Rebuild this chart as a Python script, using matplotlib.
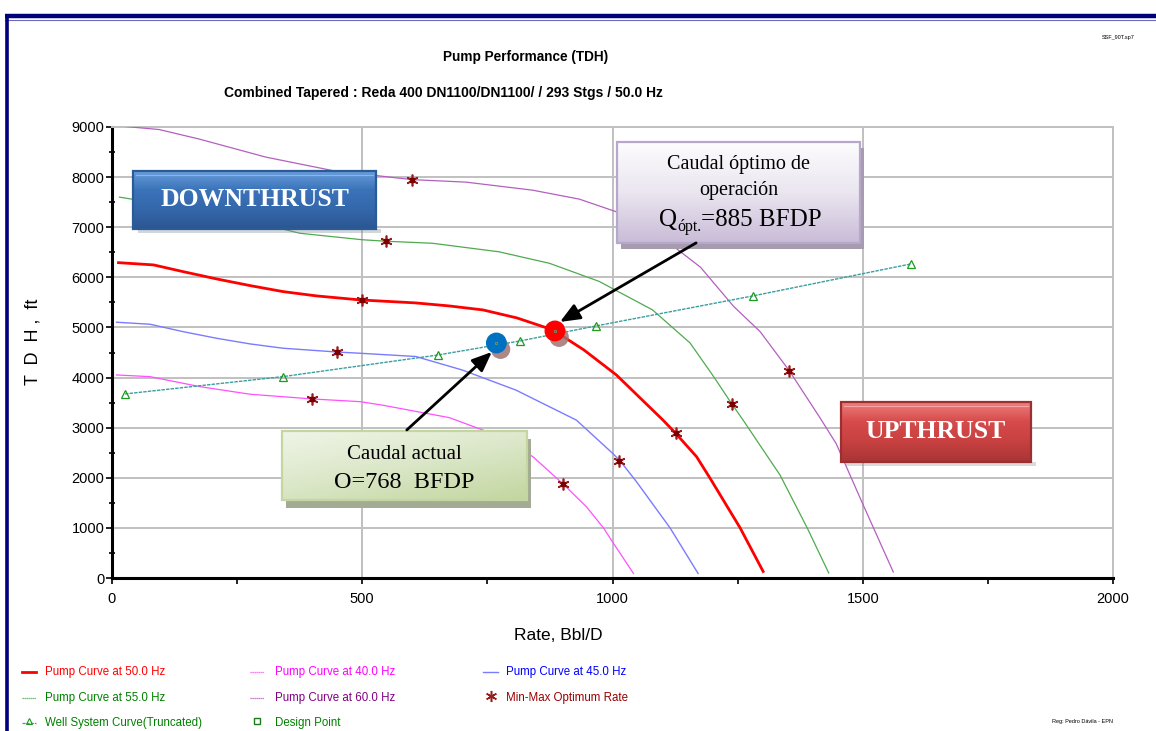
import numpy as np
import matplotlib
matplotlib.use("Agg")
import matplotlib.pyplot as plt
import matplotlib.patheffects as pe
from matplotlib.patches import Rectangle
from matplotlib.colors import LinearSegmentedColormap
from matplotlib.transforms import offset_copy


# Pump curves (rate Bbl/D, TDH ft)
q_60 = [15, 94, 174, 307, 441, 599, 707, 840, 934, 1007, 1110, 1176, 1242, 1295, 1353, 1415, 1447, 1499, 1561]
tdh_60 = [9020, 8950, 8760, 8400, 8130, 7950, 7900, 7740, 7560, 7310, 6710, 6200, 5420, 4916, 4140, 3190, 2680, 1500, 120]

q_55 = [15, 108, 242, 375, 500, 548, 640, 773, 874, 973, 1080, 1155, 1202, 1238, 1261, 1335, 1389, 1432]
tdh_55 = [7600, 7450, 7210, 6880, 6750, 6720, 6680, 6510, 6280, 5920, 5350, 4690, 4020, 3480, 3150, 2050, 1000, 100]

q_50 = [13, 83, 142, 209, 276, 342, 409, 496, 606, 673, 741, 809, 881, 943, 1008, 1101, 1126, 1168, 1195, 1255, 1301]
tdh_50 = [6293, 6248, 6114, 5968, 5835, 5715, 5629, 5549, 5490, 5430, 5350, 5190, 4950, 4550, 4050, 3150, 2890, 2420, 1990, 1000, 130]

q_45 = [9, 76, 142, 209, 276, 342, 449, 496, 607, 700, 807, 928, 1000, 1015, 1048, 1115, 1171]
tdh_45 = [5104, 5064, 4916, 4784, 4671, 4585, 4510, 4485, 4420, 4150, 3750, 3150, 2490, 2340, 1920, 1000, 90]

q_40 = [9, 76, 176, 276, 400, 496, 540, 674, 774, 841, 902, 948, 982, 1002, 1042]
tdh_40 = [4052, 4018, 3818, 3667, 3573, 3519, 3450, 3200, 2830, 2420, 1870, 1420, 1000, 690, 90]

# Min-Max optimum rate points
minmax_q = [599, 1353, 548, 1238, 499, 1126, 449, 1013, 400, 902]
minmax_tdh = [7950, 4140, 6720, 3480, 5550, 2890, 4510, 2340, 3573, 1870]

# Well system curve (truncated)
well_q = [26, 341, 651, 815, 967, 1281, 1596]
well_tdh = [3673, 4018, 4450, 4730, 5030, 5630, 6267]

# Operating points: optimum and actual
design_q = [885, 768]
design_tdh = [4930, 4690]
design_colors = ["#ff0000", "#0070c0"]

x_ticks = [0, 500, 1000, 1500, 2000]
y_ticks = [0, 1000, 2000, 3000, 4000, 5000, 6000, 7000, 8000, 9000]

W, H = 1156, 731
SANS = ["Liberation Sans", "DejaVu Sans"]
SERIF = ["Liberation Serif", "DejaVu Serif"]

plt.rcParams["font.family"] = SANS


def fx(px):
    return px / W


def fy(py):
    return 1 - py / H


def grad_box(ax, x0, x1, y0, y1, colors, edge, z, direction="v"):
    # colors go from the top edge (first) to the bottom edge (last)
    cmap = LinearSegmentedColormap.from_list("box", colors)
    if direction == "v":
        grad = np.linspace(0, 1, 80).reshape(-1, 1)
    else:
        gx, gy = np.meshgrid(np.linspace(0, 1, 80), np.linspace(0, 1, 80))
        grad = gx * 0.4 + gy * 0.6
    ax.imshow(grad, extent=(x0, x1, y0, y1), origin="upper", cmap=cmap,
              aspect="auto", zorder=z, interpolation="bicubic")
    ax.add_patch(Rectangle((x0, y0), x1 - x0, y1 - y0, fill=False,
                           ec=edge, lw=1.6, zorder=z + 0.1))


fig = plt.figure(figsize=(W / 100, H / 100), dpi=100)
renderer = fig.canvas.get_renderer()

# page overlay in pixel units: frame, legend, notes
ov = fig.add_axes([0, 0, 1, 1])
ov.set_xlim(0, W)
ov.set_ylim(H, 0)
ov.axis("off")
ov.plot([5, W], [16, 16], color="#00007a", lw=3.2, solid_capstyle="butt")
ov.plot([5, W], [19.5, 19.5], color="#6a6ab8", lw=0.8)
ov.plot([7, 7], [16, H], color="#00007a", lw=2.6, solid_capstyle="butt")

ax = fig.add_axes([fx(112), fy(578), (1113 - 112) / W, (578 - 127) / H])

ax.plot(q_60, tdh_60, color="#b45fc0", lw=0.9, zorder=3)
ax.plot(q_55, tdh_55, color="#4faa4f", lw=0.9, zorder=3)
ax.plot(q_50, tdh_50, color="#ff0000", lw=2.0, zorder=4)
ax.plot(q_45, tdh_45, color="#7b7bff", lw=1.0, zorder=3)
ax.plot(q_40, tdh_40, color="#ff50ff", lw=0.9, zorder=3)

ax.plot(well_q, well_tdh, color="#3a9f9f", lw=1.0, ls=(0, (2.5, 0.8)), zorder=3)
ax.plot(well_q, well_tdh, ls="none", marker="^", ms=6, mfc="none",
        mec="#1f9a1f", mew=0.9, zorder=5)

ax.plot(minmax_q, minmax_tdh, ls="none", marker=(6, 2, 0), ms=8.5,
        mew=1.2, color="#9b1c1c", zorder=6)
ax.plot(minmax_q, minmax_tdh, ls="none", marker="s", ms=3,
        color="#7a0000", zorder=6)

for q, t, c in zip(design_q, design_tdh, design_colors):
    ax.plot([q], [t], ls="none", marker="o", ms=14, color=c, zorder=8,
            path_effects=[pe.SimplePatchShadow(offset=(3, -4.5),
                                                shadow_rgbFace="#a07272",
                                                alpha=0.85),
                          pe.Normal()])
    ax.plot([q], [t], ls="none", marker="s", ms=1.5, mfc="none",
            mec="#6a9a6a", mew=0.6, zorder=9)

# axes styling
ax.set_xlim(0, 2000)
ax.set_ylim(0, 9000)
ax.set_xticks(x_ticks)
ax.set_yticks(y_ticks)
ax.set_xticks([250, 750, 1250, 1750], minor=True)
ax.set_yticks(np.arange(500, 9000, 1000), minor=True)
ax.grid(True, which="major", color="#c0c0c0", lw=1.4, zorder=0)
ax.set_axisbelow(True)
for s in ["top", "right"]:
    ax.spines[s].set_color("#c0c0c0")
    ax.spines[s].set_linewidth(1.4)
for s in ["left", "bottom"]:
    ax.spines[s].set_color("black")
    ax.spines[s].set_linewidth(2.2)
ax.tick_params(axis="x", which="both", direction="out", length=4, width=1.2,
               labelsize=10.5, pad=6)
ax.tick_params(axis="y", which="major", direction="out", length=4, width=1.2,
               labelsize=10.5, pad=1.5)
ax.tick_params(axis="y", which="minor", direction="inout", length=5, width=1.2)

# thrust boxes
ax.add_patch(Rectangle((52, 6880), 485, 90, color="#7d8a99", alpha=0.35, lw=0, zorder=9))
grad_box(ax, 42, 527, 6966, 8124, ["#6a9fdc", "#3b73b9", "#3467ab", "#2b5792"], "#2b5a95", 10)
ax.plot([48, 521], [8050, 8050], color="#8cb6e6", lw=0.8, zorder=10.2)
ax.text(285, 7560, "DOWNTHRUST", color="white", fontsize=18.5, fontweight="bold",
        family=SERIF, ha="center", va="center", zorder=11)

ax.add_patch(Rectangle((1467, 2230), 380, 90, color="#8a8a8a", alpha=0.3, lw=0, zorder=9))
grad_box(ax, 1457, 1836, 2315, 3513, ["#f08080", "#d64a4a", "#c84141", "#a83535"], "#9c3030", 10)
ax.plot([1463, 1830], [3440, 3440], color="#f7a5a5", lw=0.8, zorder=10.2)
ax.text(1646, 2930, "UPTHRUST", color="white", fontsize=18.5, fontweight="bold",
        family=SERIF, ha="center", va="center", zorder=11)

# annotation boxes
ax.add_patch(Rectangle((1017, 6567), 485, 2016, color="#a69cae", lw=0, zorder=9))
grad_box(ax, 1009, 1494, 6687, 8703, ["#fdfcfe", "#ebe6f0", "#c9bcd8"], "#b7a7cc", 10)
ax.text(1252, 8244, "Caudal óptimo de", fontsize=14.5, family=SERIF,
        ha="center", va="center", zorder=11)
ax.text(1252, 7725, "operación", fontsize=14.5, family=SERIF,
        ha="center", va="center", zorder=11)

# Q with its subscript, then the rest of the line
q_txt = ax.text(1093, 7026, "Q", fontsize=18, family=SERIF,
                ha="left", va="baseline", zorder=11)
w_q = q_txt.get_window_extent(renderer).width
sub_txt = ax.text(1093, 7026, "ópt.", fontsize=11.5, family=SERIF, ha="left",
                  va="baseline", zorder=11,
                  transform=offset_copy(ax.transData, fig=fig, x=w_q, y=-5, units="dots"))
w_sub = sub_txt.get_window_extent(renderer).width
ax.text(1093, 7026, "=885 BFDP", fontsize=18, family=SERIF, ha="left",
        va="baseline", zorder=11,
        transform=offset_copy(ax.transData, fig=fig, x=w_q + w_sub, y=0, units="dots"))

ax.add_patch(Rectangle((348, 1397), 489, 1377, color="#a3ab95", lw=0, zorder=9))
grad_box(ax, 340, 829, 1557, 2934, ["#f0f5e8", "#dbe7c8", "#c3d6a0"], "#c6d6a2", 10,
         direction="d")
ax.text(584, 2455, "Caudal actual", fontsize=15, family=SERIF,
        ha="center", va="center", zorder=11)
ax.text(584, 1896, "O=768  BFDP", fontsize=17.5, family=SERIF,
        ha="center", va="center", zorder=11)

arrow = dict(arrowstyle="-|>,head_length=1.2,head_width=0.5", color="black", lw=2.0,
             shrinkA=0, shrinkB=0)
ax.annotate("", xy=(759, 4511), xytext=(589, 2954), arrowprops=arrow, zorder=12)
ax.annotate("", xy=(895, 5110), xytext=(1167, 6687), arrowprops=arrow, zorder=12)

# titles and axis labels
fig.text(fx(526), fy(57), "Pump Performance (TDH)", fontsize=9.8,
         fontweight="bold", ha="center", va="center")
fig.text(fx(443), fy(93), "Combined Tapered : Reda 400 DN1100/DN1100/ / 293 Stgs / 50.0 Hz",
         fontsize=10, fontweight="bold", ha="center", va="center")
fig.text(fx(558), fy(636), "Rate, Bbl/D", fontsize=12.5, ha="center", va="center")
fig.text(fx(33), fy(342), "T  D  H ,  ft", fontsize=13, rotation=90,
         ha="center", va="center")

fig.text(fx(1118), fy(37), "SSF_90T.sp7", fontsize=4, ha="center", va="center")
fig.text(fx(1083), fy(722), "Reg: Pedro Dávila - EPN", fontsize=4, ha="center", va="center")

# legend
legend_rows = [672, 698, 723]
legend_cols = [(22, 36, 45), (250, 264, 275), (483, 498, 506)]
legend_items = [
    ("Pump Curve at 50.0 Hz", "#ff0000", dict(color="#ff0000", lw=2.0), None),
    ("Pump Curve at 40.0 Hz", "#ff00ff", dict(color="#ff50ff", lw=0.9, ls=(0, (1, 0.6))), None),
    ("Pump Curve at 45.0 Hz", "#0000ff", dict(color="#7b7bff", lw=1.0), None),
    ("Pump Curve at 55.0 Hz", "#008000", dict(color="#4faa4f", lw=0.9, ls=(0, (1, 0.6))), None),
    ("Pump Curve at 60.0 Hz", "#800080", dict(color="#b45fc0", lw=0.9, ls=(0, (1, 0.6))), None),
    ("Min-Max Optimum Rate", "#990000", None, dict(marker=(6, 2, 0), ms=8, mew=1.1, color="#9b1c1c")),
    ("Well System Curve(Truncated)", "#008000", dict(color="#3a9f9f", lw=0.9, ls=(0, (2.5, 0.8))),
     dict(marker="^", ms=5, mfc="none", mec="#1f9a1f", mew=0.8)),
    ("Design Point", "#008000", None, dict(marker="s", ms=4, mfc="none", mec="#1f7a1f", mew=1.0)),
]
for i, (label, tcolor, line_kw, marker_kw) in enumerate(legend_items):
    y = legend_rows[i // 3]
    x0, x1, xt = legend_cols[i % 3]
    if line_kw is not None:
        ov.plot([x0, x1], [y, y], **line_kw)
    if marker_kw is not None:
        ov.plot([(x0 + x1) / 2], [y - 2], ls="none", **marker_kw)
    ov.text(xt, y, label, color=tcolor, fontsize=8.3, ha="left", va="center")

fig.savefig("out.png", dpi=100)
